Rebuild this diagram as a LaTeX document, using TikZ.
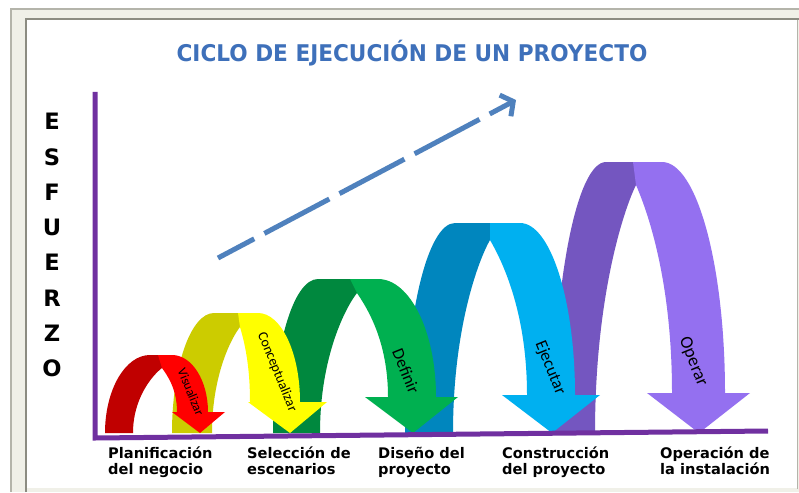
\documentclass[tikz,border=0pt]{standalone}
\usepackage{fontspec}
\setmainfont{DejaVu Sans}
\newfontfamily\labfont{Carlito}
\usetikzlibrary{arrows.meta}
\definecolor{axispurple}{RGB}{112,48,160}
\definecolor{dashblue}{RGB}{79,129,189}
\definecolor{titleblue}{RGB}{62,112,186}
\definecolor{framecream}{RGB}{240,240,232}
\definecolor{framegray}{RGB}{180,180,170}
\definecolor{framedark}{RGB}{140,140,130}
\definecolor{redD}{RGB}{192,0,0}
\definecolor{redL}{RGB}{255,0,0}
\definecolor{yelD}{RGB}{204,204,0}
\definecolor{yelL}{RGB}{255,255,0}
\definecolor{grnD}{RGB}{0,136,62}
\definecolor{grnL}{RGB}{0,176,80}
\definecolor{bluD}{RGB}{0,134,190}
\definecolor{bluL}{RGB}{0,176,240}
\definecolor{purD}{RGB}{116,86,192}
\definecolor{purL}{RGB}{148,112,240}
\pgfkeys{/arcp/.cd,
  lo/.store in=\arcLo, li/.store in=\arcLi, top/.store in=\arcTop,
  da/.store in=\arcDa, s/.store in=\arcS, la/.store in=\arcLa,
  h/.store in=\arcH, hy/.store in=\arcHy, ro/.store in=\arcRo,
  ri/.store in=\arcRi, ab/.store in=\arcAB, al/.store in=\arcAL,
  ar/.store in=\arcAR, tp/.store in=\arcT, dark/.store in=\arcDark,
  light/.store in=\arcLight}
\newcommand\drawribbon[1]{%
  \pgfkeys{/arcp/.cd,#1}%
  \fill[\arcDark] (\arcLo,433) .. controls (\arcLo,{433-0.5523*(433-\arcTop)}) and ({\arcDa-0.5523*(\arcDa-\arcLo)},\arcTop) .. (\arcDa,\arcTop)
     -- ({\arcS+2},\arcTop) -- ({\arcH+2},\arcHy) -- (\arcH,\arcHy)
     .. controls ({\arcH-0.3*(\arcH-\arcLi)},{\arcHy+0.1*(433-\arcHy)}) and (\arcLi,{433-0.55*(433-\arcHy)}) .. (\arcLi,433) -- cycle;
  \fill[\arcLight] (\arcS,\arcTop) -- (\arcLa,\arcTop)
     .. controls ({\arcLa+0.5523*(\arcRo-\arcLa)},\arcTop) and (\arcRo,{\arcAB-0.5523*(\arcAB-\arcTop)}) .. (\arcRo,\arcAB)
     -- (\arcAR,\arcAB) -- (\arcT,433) -- (\arcAL,\arcAB) -- (\arcRi,\arcAB)
     .. controls (\arcRi,{\arcAB-0.55*(\arcAB-\arcHy)}) and ({\arcH+0.3*(\arcRi-\arcH)},{\arcHy+0.1*(433-\arcHy)}) .. (\arcH,\arcHy) -- cycle;
}
\tikzset{
  bottomlabel/.style={anchor=north west, align=left, inner sep=0pt,
    font=\bfseries\fontsize{14.6}{16.5}\selectfont},
  arclabel/.style={rotate=-68, inner sep=0pt},
  esfletter/.style={inner sep=0pt, font=\bfseries\fontsize{22.6}{24}\selectfont},
  axisline/.style={draw=axispurple, line width=5pt, line join=miter},
  trendline/.style={draw=dashblue, line width=5pt, dash pattern=on 73.5pt off 11.5pt, dash phase=32.5pt,
    -{Straight Barb[length=9pt,width=24pt]}}
}
\begin{document}
\begin{tikzpicture}[x=1pt,y=-1pt]
\useasboundingbox (0,0) rectangle (799,492);
\fill[white] (0,0) rectangle (799,492);
% frame
\fill[framecream] (10,8) rectangle (799,492);
\draw[framegray, line width=2pt] (11,492) -- (11,9) -- (799,9);
\fill[white] (27,20) rectangle (797,488);
\draw[framedark, line width=2pt] (26,492) -- (26,19) -- (799,19);
\draw[framegray, line width=1.5pt] (797.5,20) -- (797.5,489);
% title
\node[font=\bfseries\fontsize{23}{28}\selectfont, text=titleblue] (title) at (412,53) {\scalebox{0.94}[1]{CICLO DE EJECUCIÓN DE UN PROYECTO}};
% ribbons (back to front)
\drawribbon{lo=553, li=595, top=162, da=606, s=633, la=662, h=636, hy=185, ro=725, ri=672, ab=393, al=647, ar=750, tp=699, dark=purD, light=purL}
\drawribbon{lo=405, li=453, top=223, da=455, s=490, la=520, h=490, hy=240, ro=575, ri=527, ab=395, al=502, ar=600, tp=552, dark=bluD, light=bluL}
\drawribbon{lo=273, li=320, top=279, da=318, s=350, la=378, h=357, hy=293, ro=436, ri=388, ab=397, al=365, ar=458, tp=413, dark=grnD, light=grnL}
\drawribbon{lo=172, li=212, top=313, da=214, s=238, la=258, h=240, hy=327, ro=300, ri=250, ab=402, al=248, ar=327, tp=290, dark=yelD, light=yelL}
\drawribbon{lo=105, li=133, top=355, da=150, s=158, la=172, h=162, hy=368, ro=208, ri=177, ab=412, al=172, ar=225, tp=200, dark=redD, light=redL}
% arrow labels
\node[arclabel, font=\labfont\fontsize{13}{13}\selectfont] (lvis) at (191,392) {Visualizar};
\node[arclabel, font=\labfont\fontsize{14}{14}\selectfont] (lcon) at (277,372) {Conceptualizar};
\node[arclabel, font=\labfont\fontsize{17}{17}\selectfont] (ldef) at (406,371) {Definir};
\node[arclabel, font=\labfont\fontsize{17}{17}\selectfont] (leje) at (550,368) {Ejecutar};
\node[arclabel, font=\labfont\fontsize{18}{18}\selectfont] (lope) at (693,362) {Operar};
% axes
\coordinate (ytop) at (95,92);
\coordinate (origin) at (95,438);
\coordinate (xend) at (768,431);
\draw[axisline] (ytop) -- (origin) -- (xend);
% trend arrow
\coordinate (tstart) at (218,258);
\coordinate (tend) at (516,100);
\draw[trendline] (tstart) -- (tend);
% ESFUERZO
\foreach \L [count=\i] in {E,S,F,U,E,R,Z,O}
  \node[esfletter] (esf\i) at (52,{121.5+35.3*(\i-1)}) {\L};
% bottom labels
\node[bottomlabel] (b1) at (108,446.5) {Planificación\\del negocio};
\node[bottomlabel] (b2) at (247,446.5) {Selección de\\escenarios};
\node[bottomlabel] (b3) at (378,446.5) {Diseño del\\proyecto};
\node[bottomlabel] (b4) at (502,446.5) {Construcción\\del proyecto};
\node[bottomlabel] (b5) at (660,446.5) {Operación de\\la instalación};
\end{tikzpicture}
\end{document}
